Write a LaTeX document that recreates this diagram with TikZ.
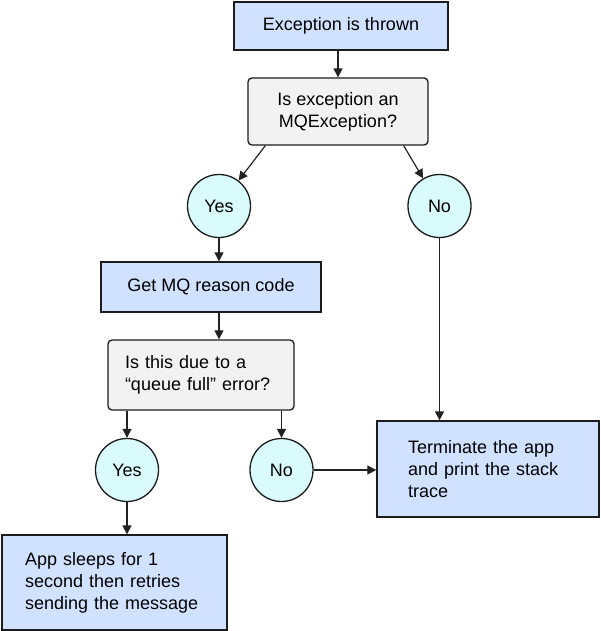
\documentclass[tikz,border=0pt]{standalone}
\usepackage{fontspec}
\setmainfont{Liberation Sans}
\usetikzlibrary{arrows.meta,calc}
\definecolor{bluefill}{HTML}{D0E2FF}
\definecolor{grayfill}{HTML}{F2F2F2}
\definecolor{tealfill}{HTML}{D9FBFB}
\definecolor{edgecol}{HTML}{1C1C1C}
\definecolor{linecol}{HTML}{222222}
\begin{document}
\begin{tikzpicture}[x=1pt,y=-1pt,
  every node/.style={font=\fontsize{18}{22}\selectfont, text=black},
  bluebox/.style={draw=edgecol, line width=1.3pt, fill=bluefill, rectangle, inner sep=0pt},
  graybox/.style={draw=edgecol, line width=1.3pt, fill=grayfill, rectangle, rounded corners=4pt, inner sep=0pt},
  ans/.style={draw=edgecol, line width=1.3pt, fill=tealfill, circle, minimum size=63pt, inner sep=0pt},
  arr/.style={-{Triangle[length=9pt,width=9pt]}, line width=1.2pt, draw=linecol},
]
\useasboundingbox (0,0) rectangle (600,631);
\node[bluebox, minimum width=214pt, minimum height=48pt] (b1) at (341,26) {Exception is thrown};
\node[graybox, minimum width=180pt, minimum height=67pt, align=center] (b2) at (338,111.5) {Is exception an\\MQException?};
\node[ans] (y1) at (219,206) {Yes};
\node[ans] (n1) at (439.5,206) {No};
\node[bluebox, minimum width=220pt, minimum height=50pt] (b3) at (211,287) {Get MQ reason code};
\node[graybox, minimum width=186pt, minimum height=70pt, text width=152pt, align=left] (b4) at (201,375) {Is this due to a\\“queue full” error?};
\node[ans] (y2) at (127,470) {Yes};
\node[ans] (n2) at (281.5,470) {No};
\node[bluebox, minimum width=222pt, minimum height=96pt, text width=160pt, align=left] (b6) at (488,469) {Terminate the app\\and print the stack\\trace};
\node[bluebox, minimum width=225pt, minimum height=95pt, text width=179pt, align=left] (b5) at (114.5,582.5) {App sleeps for 1\\second then retries\\sending the message};
\draw[arr] (b2.north |- b1.south) -- (b2.north);
\draw[arr] ($(b2.south west)+(18,0)$) -- (y1);
\draw[arr] ($(b2.south east)+(-25,0)$) -- (n1);
\draw[arr] (y1.south) -- (y1.south |- b3.north);
\draw[arr] (b3.south -| y1) -- (b4.north -| y1);
\draw[arr] (b4.south -| y2) -- (y2);
\draw[arr] (b4.south -| n2) -- (n2);
\draw[arr] (y2) -- (b5.north -| y2);
\draw[arr] (n2) -- (b6.west |- n2);
\draw[arr] (n1) -- (b6.north -| n1);
\end{tikzpicture}
\end{document}
